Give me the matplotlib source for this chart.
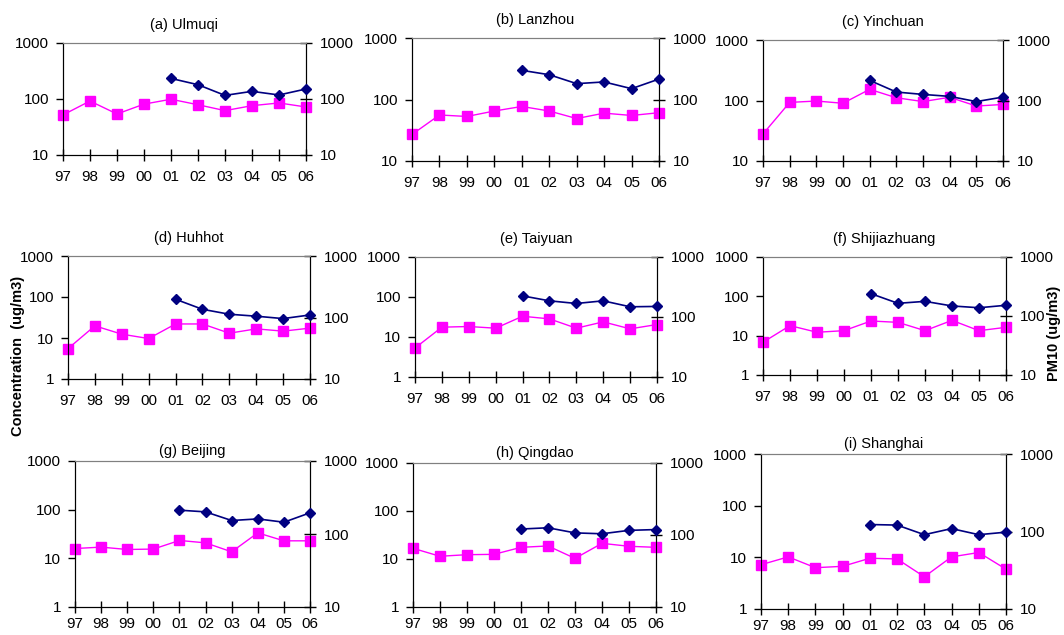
import numpy as np
import matplotlib
matplotlib.use("Agg")
import matplotlib.pyplot as plt
from matplotlib.ticker import FixedLocator, NullLocator

plt.rcParams['font.family'] = ['Liberation Sans', 'DejaVu Sans']

years = ['97', '98', '99', '00', '01', '02', '03', '04', '05', '06']
pm10_years = ['01', '02', '03', '04', '05', '06']

# concentration (left axis, magenta) and PM10 (right axis, navy)
ulmuqi_conc = [52, 92, 54, 81, 99, 79, 62, 76, 85, 72]
ulmuqi_pm10 = [233, 180, 116, 137, 118, 151]
lanzhou_conc = [27, 56, 53, 65, 77, 65, 49, 60, 55, 61]
lanzhou_pm10 = [298, 253, 181, 193, 150, 215]
yinchuan_conc = [28, 93, 98, 90, 153, 111, 96, 113, 81, 86]
yinchuan_pm10 = [215, 138, 126, 117, 96, 114]
huhhot_conc = [5.5, 19.8, 12.4, 9.7, 22, 22, 13.1, 16.7, 14.7, 17.4]
huhhot_pm10 = [198, 136, 113, 105, 96, 110]
taiyuan_conc = [5.3, 17.6, 18.3, 16.6, 33, 28.4, 16.6, 23.9, 16, 20.5]
taiyuan_pm10 = [225, 186, 168, 186, 148, 150]
shijiazhuang_conc = [6.8, 18, 12.2, 13.4, 23.6, 21.8, 13.4, 24.5, 13.4, 16.3]
shijiazhuang_pm10 = [239, 164, 177, 148, 138, 152]
beijing_conc = [15.9, 17, 15.2, 15.5, 23.3, 20.8, 13.6, 33.4, 22.9, 22.9]
beijing_pm10 = [212, 201, 153, 161, 145, 195]
qingdao_conc = [16.7, 11.4, 12.3, 12.5, 17.5, 18.7, 10.3, 21.2, 18.4, 17.5]
qingdao_pm10 = [121, 126, 107, 104, 116, 119]
shanghai_conc = [7.2, 10.2, 6.3, 6.7, 9.6, 9.3, 4.2, 10.2, 12.4, 5.9]
shanghai_pm10 = [123, 121, 91, 109, 91, 98]

titles = ['(a) Ulmuqi', '(b) Lanzhou', '(c) Yinchuan', '(d) Huhhot', '(e) Taiyuan',
          '(f) Shijiazhuang', '(g) Beijing', '(h) Qingdao', '(i) Shanghai']
conc = [ulmuqi_conc, lanzhou_conc, yinchuan_conc, huhhot_conc, taiyuan_conc,
        shijiazhuang_conc, beijing_conc, qingdao_conc, shanghai_conc]
pm10 = [ulmuqi_pm10, lanzhou_pm10, yinchuan_pm10, huhhot_pm10, taiyuan_pm10,
        shijiazhuang_pm10, beijing_pm10, qingdao_pm10, shanghai_pm10]

W, H = 1064, 635
# axes boxes in pixels: left, right, top, bottom
boxes = [(63, 306, 43, 155), (412, 659, 38, 161), (763, 1003, 40, 161),
         (68, 310, 256, 379), (415, 657, 257, 377), (763, 1006, 257, 375),
         (75, 310, 461, 607), (413, 656, 463, 607), (761, 1006, 454, 609)]

fig = plt.figure(figsize=(W / 100, H / 100), dpi=100)
fig.patch.set_facecolor('white')

for i in range(9):
    l, r, t, b = boxes[i]
    ax = fig.add_axes([l / W, 1 - b / H, (r - l) / W, (b - t) / H])
    ax2 = ax.twinx()
    x = np.arange(len(years))
    x2 = np.arange(len(years) - len(pm10_years), len(years))

    ax.plot(x, conc[i], color='#FF00FF', marker='s', markersize=7, linewidth=1,
            clip_on=False, zorder=3)
    ax2.plot(x2, pm10[i], color='#000080', marker='D', markersize=5, linewidth=1.2,
             clip_on=False, zorder=3)

    ax.set_yscale('log')
    ax2.set_yscale('log')
    if i < 3:
        ax.set_ylim(10, 1000)
        lticks = [10, 100, 1000]
    else:
        ax.set_ylim(1, 1000)
        lticks = [1, 10, 100, 1000]
    ax2.set_ylim(10, 1000)
    ax.yaxis.set_major_locator(FixedLocator(lticks))
    ax.set_yticklabels([str(v) for v in lticks])
    ax.yaxis.set_minor_locator(NullLocator())
    ax2.yaxis.set_major_locator(FixedLocator([10, 100, 1000]))
    ax2.set_yticklabels(['10', '100', '1000'])
    ax2.yaxis.set_minor_locator(NullLocator())

    ax.set_xlim(0, len(years) - 1)
    ax.set_xticks(x)
    ax.set_xticklabels(years)

    xpad = 7 if i < 6 else 3
    ax.tick_params(axis='x', direction='inout', length=8, width=1, labelsize=11, pad=xpad)
    ax.tick_params(axis='y', direction='out', length=5, width=1, labelsize=11, pad=5)
    ax2.tick_params(axis='y', direction='inout', length=8, width=1, labelsize=11, pad=6)

    for a in (ax, ax2):
        a.spines['top'].set_color('#808080')
        a.spines['left'].set_color('black')
        a.spines['right'].set_color('black')
        a.spines['bottom'].set_color('black')
    ax.set_title(titles[i], fontsize=10.5, pad=10 if i < 6 else 4)

fig.text(18 / W, 1 - 356 / H, 'Concentration  (ug/m3)', rotation=90, fontsize=10.5,
         fontweight='bold', ha='center', va='center')
fig.text(1054 / W, 1 - 333 / H, 'PM10 (ug/m3)', rotation=90, fontsize=10.5,
         fontweight='bold', ha='center', va='center')

fig.savefig('out.png', dpi=100)
